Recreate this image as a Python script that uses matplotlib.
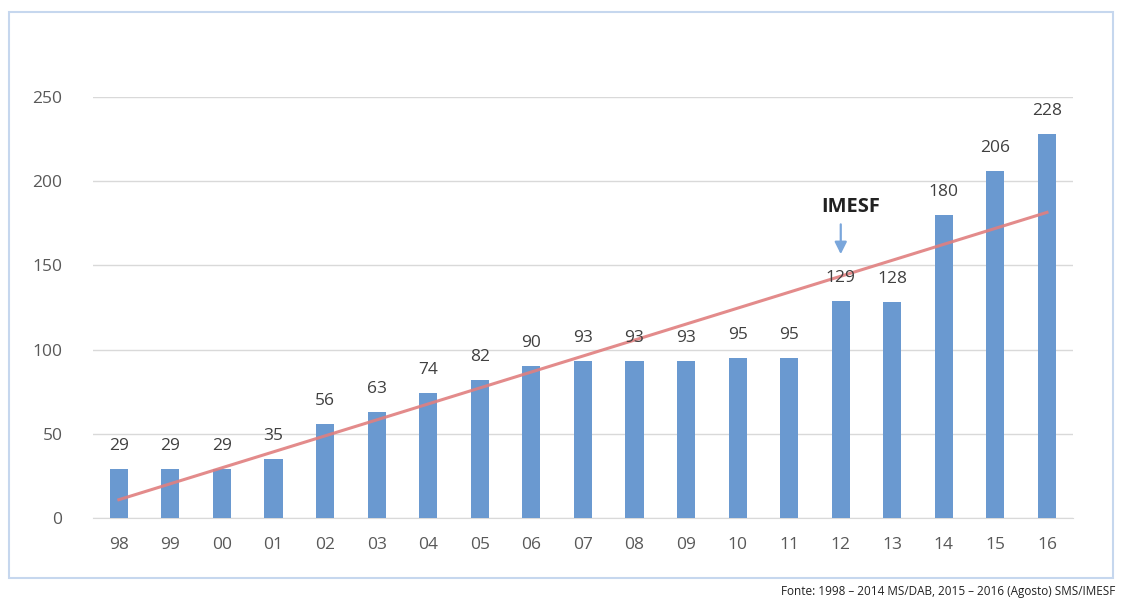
import numpy as np
import matplotlib

matplotlib.use("Agg")
import matplotlib.pyplot as plt
from matplotlib.patches import Rectangle

years = ["98", "99", "00", "01", "02", "03", "04", "05", "06", "07",
         "08", "09", "10", "11", "12", "13", "14", "15", "16"]
teams = [29, 29, 29, 35, 56, 63, 74, 82, 90, 93, 93, 93, 95, 95, 129, 128, 180, 206, 228]
yticks = [0, 50, 100, 150, 200, 250]
marker_year = "12"
marker_text = "IMESF"
source = "Fonte: 1998 – 2014 MS/DAB, 2015 – 2016 (Agosto) SMS/IMESF"

plt.rcParams["font.family"] = ["Open Sans", "DejaVu Sans"]

fig = plt.figure(figsize=(11.21, 6.0), dpi=100)
ax = fig.add_axes([0.083, 0.1367, 0.874, 0.7017])

x = np.arange(len(years))
ax.bar(x, teams, width=0.35, color="#6a99d0", zorder=3)

# linear trend line, like Excel's
slope, intercept = np.polyfit(x, teams, 1)
ax.plot(x, slope * x + intercept, color="#e07f7f", linewidth=2.2, zorder=4, alpha=0.9)

for xi, v in zip(x, teams):
    ax.text(xi, v + 9, str(v), ha="center", va="bottom", fontsize=12.5, color="#404040", zorder=5)

ax.set_xlim(-0.5, len(years) - 0.5)
ax.set_ylim(0, 250)
ax.set_yticks(yticks)
ax.set_xticks(x)
ax.set_xticklabels(years)
ax.tick_params(axis="both", length=0, labelsize=12.5, colors="#595959")
ax.tick_params(axis="x", pad=14)
ax.tick_params(axis="y", pad=22)
ax.grid(axis="y", color="#d9d9d9", linewidth=1, zorder=0)
for side in ["top", "right", "left"]:
    ax.spines[side].set_visible(False)
ax.spines["bottom"].set_color("#d9d9d9")

mi = years.index(marker_year)
ax.annotate("", xy=(mi, teams[mi] + 26), xytext=(mi, teams[mi] + 47),
            arrowprops=dict(arrowstyle="-|>", color="#7aa6db", lw=1.6, mutation_scale=18))
ax.text(mi + 0.2, teams[mi] + 50, marker_text, ha="center", va="bottom",
        fontsize=14.5, fontweight="bold", color="#222222")

fig.patches.append(Rectangle((9 / 1121, 22 / 600), 1104 / 1121, 566 / 600,
                             transform=fig.transFigure, fill=False,
                             edgecolor="#c6d7ee", linewidth=1.5))
fig.text(1115 / 1121, 0.003, source, ha="right", va="bottom", fontsize=8.5, color="#222222")

fig.savefig("out.png", dpi=100, facecolor="white")
